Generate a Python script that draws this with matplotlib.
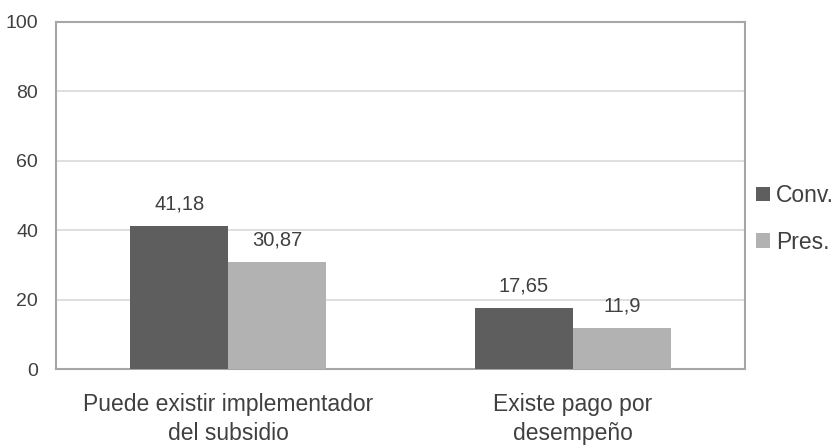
import matplotlib.pyplot as plt
import numpy as np

categories = ["Puede existir implementador\ndel subsidio", "Existe pago por\ndesempeño"]
conv = [41.18, 17.65]
pres = [30.87, 11.9]
series_names = ["Conv.", "Pres."]
yticks = [0, 20, 40, 60, 80, 100]

plt.rcParams["font.family"] = ["Liberation Sans", "DejaVu Sans"]

text_col = "#404040"
fig = plt.figure(figsize=(8.34, 4.45), dpi=100)
ax = fig.add_axes([56 / 834, 1 - 369 / 445, 689 / 834, 347 / 445])

x = np.arange(len(categories))
w = 0.285
b1 = ax.bar(x - w / 2, conv, w, color="#5e5e5e", label=series_names[0], zorder=3)
b2 = ax.bar(x + w / 2, pres, w, color="#b2b2b2", label=series_names[1], zorder=3)


def fmt(v):
    return f"{v:g}".replace(".", ",")


# value labels sit a fixed distance above each bar
for bars, vals in ((b1, conv), (b2, pres)):
    for rect, v in zip(bars, vals):
        ax.annotate(fmt(v), (rect.get_x() + rect.get_width() / 2, v),
                    xytext=(0, 12), textcoords="offset points",
                    ha="center", va="baseline", fontsize=14.5, color=text_col, zorder=4)

ax.set_xlim(-0.5, 1.5)
ax.set_ylim(0, 100)
ax.set_yticks(yticks)
ax.set_yticklabels([str(t) for t in yticks], fontsize=14, color=text_col)
ax.set_xticks(x)
ax.set_xticklabels(categories, fontsize=16.5, color=text_col, linespacing=1.33)
ax.tick_params(axis="both", length=0)
ax.tick_params(axis="y", pad=13)
ax.tick_params(axis="x", pad=17)
ax.yaxis.grid(True, color="#d9d9d9", linewidth=1.2, zorder=0)
for s in ax.spines.values():
    s.set_color("#a6a6a6")
    s.set_linewidth(1.5)

leg = fig.legend(handles=[b1, b2], loc="upper left", bbox_to_anchor=(756 / 834, 1 - 184 / 445),
                 frameon=False, fontsize=16.5, handlelength=0.61, handleheight=0.61,
                 handletextpad=0.26, labelspacing=1.04, borderaxespad=0, borderpad=0)
for t in leg.get_texts():
    t.set_color(text_col)

fig.savefig("out.png", dpi=100)
